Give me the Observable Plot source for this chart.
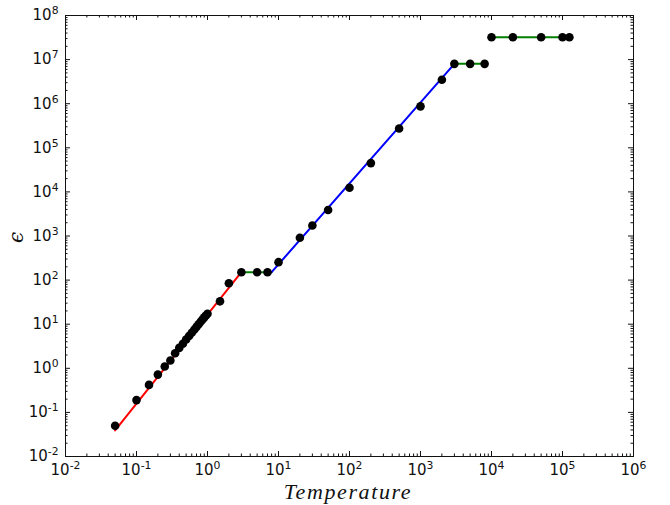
<!DOCTYPE html>
<html>
<head>
<meta charset="utf-8">
<script src="https://cdn.jsdelivr.net/npm/d3@7"></script>
<script src="https://cdn.jsdelivr.net/npm/@observablehq/plot@0.6"></script>
<style>
  html, body { margin: 0; padding: 0; background: #fff; }
  svg { display: block; }
</style>
</head>
<body>
<div id="chart"></div>
<script>
// Measured points (Temperature, epsilon)
const temperature = [0.05, 0.1, 0.15, 0.2, 0.25, 0.3, 0.35, 0.4, 0.45, 0.5, 0.55, 0.6, 0.65, 0.7, 0.75, 0.8, 0.85, 0.9, 0.95, 1.0,
  1.5, 2, 3, 5, 7, 10, 20, 30, 50, 100, 200, 500, 1000, 2000, 3000, 5000, 8000, 1e4, 2e4, 5e4, 1e5, 1.25e5];
const epsilon = [0.05, 0.19, 0.42, 0.72, 1.1, 1.5, 2.2, 2.9, 3.6, 4.5, 5.4, 6.4, 7.5, 8.7, 10, 11.4, 12.8, 14.3, 15.8, 17.3,
  33, 85, 151, 151, 151, 255, 910, 1730, 3900, 12400, 45000, 275000, 870000, 3.5e6, 8e6, 8e6, 8e6, 3.2e7, 3.2e7, 3.2e7, 3.2e7, 3.2e7];

// Fitted segments: start/end (Temperature, epsilon) and colour
const segT0 = [0.05, 3, 8, 3000, 1e4];
const segE0 = [0.039, 151, 151, 8e6, 3.2e7];
const segT1 = [3, 8, 3000, 8000, 1.25e5];
const segE1 = [151, 151, 8e6, 8e6, 3.2e7];
const segColor = ["#ff0000", "#008000", "#0000ff", "#008000", "#008000"];

// Axis decades
const xDecades = d3.range(-2, 7);
const yDecades = d3.range(-2, 9);

const points = temperature.map((t, i) => ({t, e: epsilon[i]}));
const segments = segT0.flatMap((t0, i) => [
  {t: t0, e: segE0[i], seg: i},
  {t: segT1[i], e: segE1[i], seg: i}
]);
const majorX = xDecades.map(k => 10 ** k);
const majorY = yDecades.map(k => 10 ** k);
const minors = ks => ks.slice(0, -1).flatMap(k => d3.range(2, 10).map(m => m * 10 ** k));
const minorX = minors(xDecades);
const minorY = minors(yDecades);

const W = 670, H = 505;
const mL = 65, mR = 37, mT = 15, mB = 49;
const pH = H - mT - mB, pW = W - mL - mR;
const expFmt = d => "10^" + Math.round(Math.log10(d));
const tc = "#111";

const plot = Plot.plot({
  width: W, height: H,
  marginLeft: mL, marginRight: mR, marginTop: mT, marginBottom: mB,
  style: {fontFamily: "DejaVu Sans, sans-serif", fontSize: "15px", color: tc, background: "#fff"},
  x: {type: "log", domain: [1e-2, 1e6]},
  y: {type: "log", domain: [1e-2, 1e8]},
  marks: [
    // ticks (inward, all four sides)
    Plot.tickX(majorX, {x: d => d, insetTop: pH - 5, stroke: tc}),
    Plot.tickX(majorX, {x: d => d, insetBottom: pH - 5, stroke: tc}),
    Plot.tickX(minorX, {x: d => d, insetTop: pH - 2.5, stroke: tc}),
    Plot.tickX(minorX, {x: d => d, insetBottom: pH - 2.5, stroke: tc}),
    Plot.tickY(majorY, {y: d => d, insetRight: pW - 5, stroke: tc}),
    Plot.tickY(majorY, {y: d => d, insetLeft: pW - 5, stroke: tc}),
    Plot.tickY(minorY, {y: d => d, insetRight: pW - 2.5, stroke: tc}),
    Plot.tickY(minorY, {y: d => d, insetLeft: pW - 2.5, stroke: tc}),
    Plot.axisX(majorX, {tickSize: 0, tickPadding: 8, tickFormat: expFmt, label: null, fill: tc}),
    Plot.axisY(majorY, {tickSize: 0, tickPadding: 7, tickFormat: expFmt, label: null, fill: tc}),
    Plot.line(segments, {x: "t", y: "e", z: "seg", stroke: d => segColor[d.seg], strokeWidth: 2}),
    Plot.dot(points, {x: "t", y: "e", r: 4.3, fill: "#000", stroke: "none"}),
    Plot.frame({stroke: tc, strokeWidth: 1})
  ]
});

// Render exponents as superscripts
d3.select(plot).selectAll('g[aria-label="x-axis tick label"] text, g[aria-label="y-axis tick label"] text').each(function() {
  const s = d3.select(this);
  const m = s.text().match(/^10\^(.*)$/);
  if (!m) return;
  s.text("10");
  s.append("tspan").attr("dy", "-0.55em").attr("font-size", "0.72em").text(m[1]);
});

// Axis titles
const svg = d3.select(plot);
svg.append("text")
  .attr("x", mL + pW / 2 - 1).attr("y", H - 6)
  .attr("text-anchor", "middle")
  .attr("font-family", "Liberation Serif, DejaVu Serif, serif")
  .attr("font-style", "italic")
  .attr("font-size", 22)
  .attr("letter-spacing", "1.6px")
  .attr("fill", tc)
  .text("Temperature");
svg.append("text")
  .attr("transform", `translate(23,${mT + pH / 2 + 2}) rotate(-90)`)
  .attr("text-anchor", "middle")
  .attr("font-family", "DejaVu Serif, Liberation Serif, serif")
  .attr("font-style", "italic")
  .attr("font-size", 20)
  .attr("fill", tc)
  .text("ϵ");

document.getElementById("chart").appendChild(plot);
</script>
</body>
</html>
